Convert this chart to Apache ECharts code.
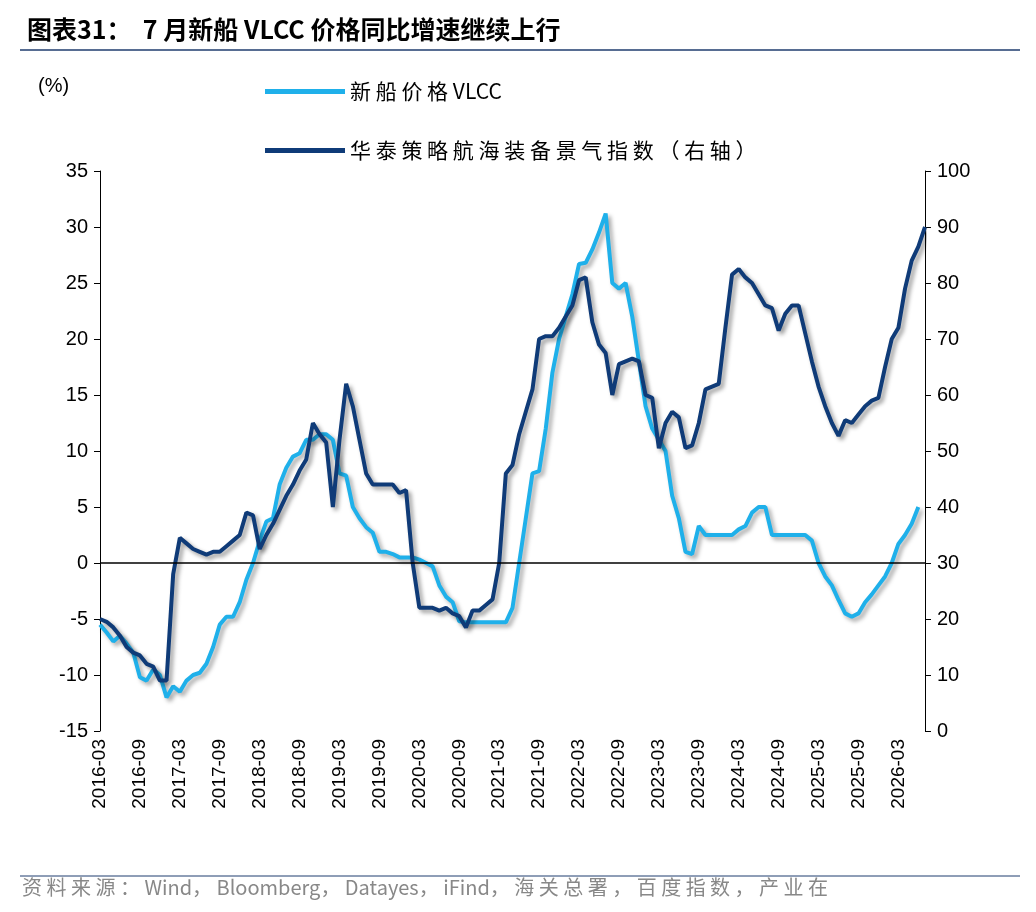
<!DOCTYPE html>
<html><head><meta charset="utf-8">
<script src="https://cdn.jsdelivr.net/npm/echarts@6/dist/echarts.min.js"></script>
<style>body{margin:0;background:#fff}#c{width:1036px;height:912px}</style></head>
<body><div id="c"></div>
<script>
const categories=[];
for(let y=2016,m=3;categories.length<125;){categories.push(y+'-'+String(m).padStart(2,'0'));m++;if(m>12){m=1;y++;}}
const vlcc=[-5.5,-6.2,-7,-6.5,-7.2,-8,-10.2,-10.5,-9.5,-10,-12,-11,-11.5,-10.5,-10,-9.8,-9,-7.5,-5.5,-4.8,-4.8,-3.5,-1.5,0,2,3.7,4,7,8.5,9.5,9.8,11,11,11.5,11.5,11,8,7.8,5,4,3.2,2.7,1,1,0.8,0.5,0.5,0.5,0.3,0,-0.3,-2,-3,-3.5,-5.2,-5.3,-5.3,-5.3,-5.3,-5.3,-5.3,-5.3,-4,0,4,8,8.2,12,17,20,22,24,26.7,26.8,28,29.5,31.2,25,24.5,25,22,18,14,12,11,10,6,4,1,0.8,3.3,2.5,2.5,2.5,2.5,2.5,3,3.3,4.5,5,5,2.5,2.5,2.5,2.5,2.5,2.5,2,0,-1.2,-2,-3.3,-4.5,-4.8,-4.5,-3.5,-2.8,-2,-1.2,0,1.7,2.5,3.5,5,null];
const index=[20,19.5,18.5,17,15,14,13.5,12,11.5,9,9,28,34.5,33.5,32.5,32,31.5,32,32,33,34,35,39,38.5,32.5,35,37,39.5,42,44,46.5,48.5,55,53,51.5,40,52,62,58,52,46,44,44,44,44,42.5,43,30,22,22,22,21.5,22,21,20.5,18.5,21.5,21.5,22.5,23.5,30,46,47.5,53,57,61,70,70.5,70.5,72,74,76,80.5,81,73,69,67.5,60,65.5,66,66.5,66,60,59.5,50.5,55,57,56,50.5,51,55,61,61.5,62,72,81.5,82.5,81,80,78,76,75.5,71.5,74.5,76,76,71,66,61.5,58,55,52.7,55.5,55,56.5,58,59,59.5,65,70,72,79,84,86.5,90];
const leftTicks={min:-15,max:35,interval:5};
const rightTicks={min:0,max:100,interval:10};
const c=echarts.init(document.getElementById('c'));
const txt='#000';
c.setOption({
 animation:false,
 title:{text:'图表31：  7 月新船 VLCC 价格同比增速继续上行',left:22,top:12,textStyle:{fontSize:25,fontWeight:'bold',color:'#000',fontFamily:'Noto Sans CJK SC'}},
 graphic:[
  {type:'line',shape:{x1:20,y1:50,x2:1020,y2:50},style:{stroke:'#1f3c6e',lineWidth:1.5}},
  {type:'line',shape:{x1:20,y1:876,x2:1020,y2:876},style:{stroke:'#1f3c6e',lineWidth:1}},
  {type:'text',left:22,top:877,style:{text:'资 料 来 源 ： Wind， Bloomberg， Datayes， iFind， 海 关 总 署 ， 百 度 指 数 ， 产 业 在',fontSize:20,fill:'#888',fontFamily:'Noto Sans CJK SC'}},
  {type:'text',left:38,top:76,style:{text:'(%)',fontSize:20,fill:'#000',fontFamily:'Liberation Sans'}}
 ],
 legend:{orient:'vertical',left:260,top:76,itemGap:38,itemWidth:80,itemHeight:5,icon:'rect',textStyle:{fontSize:21,color:'#000',fontFamily:'Noto Sans CJK SC'},data:['新船价格VLCC','华泰策略航海装备景气指数（右轴）'],formatter:n=>n.split('').join(' ').replace('V L C C','VLCC')},
 grid:{left:100,right:111,top:171,bottom:181},
 xAxis:{type:'category',data:categories,boundaryGap:false,axisLine:{show:false},axisTick:{show:false},
  axisLabel:{interval:5,rotate:90,fontSize:19,color:txt,fontFamily:'Liberation Sans',margin:8}},
 yAxis:[
  {type:'value',...leftTicks,axisLine:{show:true,lineStyle:{color:'#000'}},axisTick:{show:true,length:6,lineStyle:{color:'#000'}},splitLine:{show:false},axisLabel:{fontSize:20,color:txt,fontFamily:'Liberation Sans',margin:12}},
  {type:'value',...rightTicks,axisLine:{show:true,lineStyle:{color:'#000'}},axisTick:{show:true,length:6,lineStyle:{color:'#000'}},splitLine:{show:false},axisLabel:{fontSize:20,color:txt,fontFamily:'Liberation Sans',margin:12}}
 ],
 series:[
  {name:'新船价格VLCC',type:'line',data:vlcc,yAxisIndex:0,symbol:'none',color:'#1fb0ea',lineStyle:{width:4,color:'#1fb0ea',shadowColor:'rgba(0,0,0,0.35)',shadowBlur:4,shadowOffsetX:3,shadowOffsetY:3},
   markLine:{silent:true,symbol:'none',label:{show:false},lineStyle:{color:'#000',width:1.5,type:'solid'},data:[{yAxis:0}]}},
  {name:'华泰策略航海装备景气指数（右轴）',type:'line',data:index,yAxisIndex:1,symbol:'none',color:'#0f3b78',lineStyle:{width:4,color:'#0f3b78',shadowColor:'rgba(0,0,0,0.4)',shadowBlur:4,shadowOffsetX:3,shadowOffsetY:3}}
 ]
});
</script></body></html>
